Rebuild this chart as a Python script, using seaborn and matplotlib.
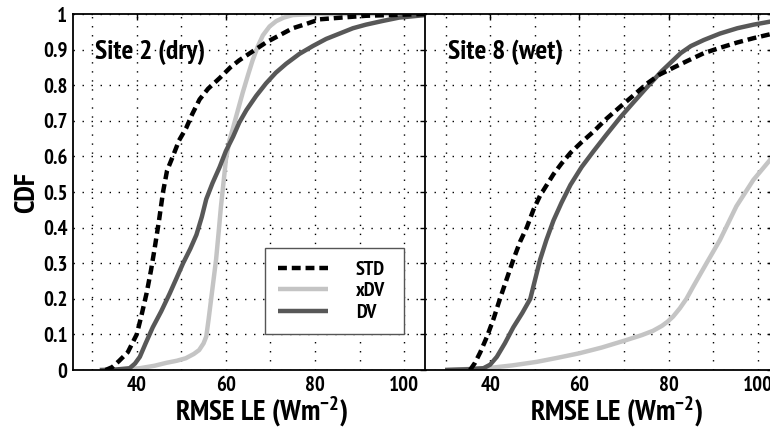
import matplotlib
matplotlib.use("Agg")
import matplotlib.pyplot as plt
from matplotlib.ticker import FixedLocator, NullFormatter
import seaborn as sns
import pandas as pd

# ---- RMSE of latent heat (W m-2) vs. cumulative fraction, per scheme and site ----
site2_std_x = [33.0, 34.5, 36.0, 38.0, 40.0, 41.0, 42.2, 43.2, 44.0, 45.0, 45.9, 46.8, 48.1, 49.5, 51.1,
               52.5, 54.1, 56.0, 58.6, 61.0, 63.0, 66.0, 69.0, 72.0, 75.0, 78.0, 81.0, 86.0, 91.4, 104.9]
site2_std_y = [0.0, 0.008, 0.025, 0.05, 0.10, 0.15, 0.215, 0.28, 0.34, 0.42, 0.50, 0.56, 0.60, 0.645, 0.68,
               0.72, 0.76, 0.79, 0.82, 0.85, 0.87, 0.895, 0.92, 0.94, 0.96, 0.972, 0.985, 0.99, 0.995, 1.0]

site2_xdv_x = [34.7, 38.0, 40.7, 44.0, 46.6, 49.0, 51.0, 52.8, 54.0, 55.0, 55.6, 56.1, 56.7, 57.3, 57.8,
               58.4, 58.9, 59.5, 60.0, 60.8, 61.6, 62.7, 63.8, 65.0, 66.0, 67.2, 68.3, 69.8, 71.3, 73.0,
               75.0, 80.0, 104.9]
site2_xdv_y = [0.0, 0.002, 0.005, 0.012, 0.02, 0.026, 0.033, 0.045, 0.056, 0.075, 0.094, 0.14, 0.20, 0.26, 0.31,
               0.39, 0.46, 0.53, 0.59, 0.645, 0.68, 0.73, 0.78, 0.83, 0.87, 0.91, 0.94, 0.965, 0.98, 0.99,
               0.997, 1.0, 1.0]

site2_dv_x = [31.7, 35.0, 38.4, 39.6, 40.7, 42.0, 43.6, 45.5, 47.4, 49.0, 50.4, 52.0, 53.4, 54.6, 55.6,
              57.0, 58.6, 60.0, 61.6, 63.0, 64.6, 66.8, 69.0, 71.2, 73.5, 76.5, 79.5, 82.5, 85.5, 88.5,
              91.4, 95.0, 98.9, 104.8]
site2_dv_y = [0.0, 0.001, 0.005, 0.018, 0.037, 0.075, 0.12, 0.165, 0.215, 0.26, 0.30, 0.34, 0.38, 0.43, 0.48,
              0.525, 0.57, 0.615, 0.655, 0.695, 0.73, 0.77, 0.805, 0.835, 0.86, 0.888, 0.91, 0.93, 0.945, 0.96,
              0.97, 0.98, 0.99, 0.997]

site8_std_x = [35.5, 36.6, 37.8, 39.3, 40.8, 42.2, 43.7, 45.2, 46.7, 48.2, 49.7, 51.2, 52.7, 54.2, 56.0,
               58.0, 60.5, 63.2, 66.0, 69.2, 72.0, 75.2, 78.0, 81.2, 84.5, 87.9, 91.5, 95.4, 99.0, 103.4]
site8_std_y = [0.0, 0.02, 0.05, 0.094, 0.145, 0.20, 0.255, 0.31, 0.36, 0.40, 0.45, 0.49, 0.52, 0.55, 0.58,
               0.61, 0.64, 0.67, 0.705, 0.74, 0.77, 0.805, 0.83, 0.85, 0.87, 0.89, 0.905, 0.92, 0.932, 0.945]

site8_xdv_x = [29.9, 39.3, 45.0, 50.5, 55.0, 60.0, 65.0, 70.5, 74.0, 76.5, 78.5, 79.8, 81.0, 82.5, 84.0,
               85.5, 88.5, 91.5, 95.2, 99.0, 103.4]
site8_xdv_y = [0.0, 0.005, 0.013, 0.023, 0.034, 0.047, 0.063, 0.084, 0.098, 0.11, 0.124, 0.136, 0.15, 0.173, 0.20,
               0.234, 0.30, 0.365, 0.46, 0.534, 0.60]

site8_dv_x = [29.9, 35.0, 38.5, 40.0, 41.5, 43.3, 45.2, 47.2, 49.0, 50.0, 51.2, 52.6, 54.2, 56.0, 58.0,
              60.5, 63.2, 66.0, 69.2, 72.0, 75.2, 78.5, 82.7, 85.0, 87.9, 91.5, 95.4, 99.0, 103.4]
site8_dv_y = [0.0, 0.002, 0.005, 0.015, 0.037, 0.075, 0.12, 0.16, 0.20, 0.25, 0.31, 0.365, 0.42, 0.47, 0.52,
              0.57, 0.615, 0.66, 0.71, 0.75, 0.795, 0.84, 0.89, 0.91, 0.927, 0.945, 0.96, 0.97, 0.98]

schemes = ["STD", "xDV", "DV"]
site_titles = ["Site 2 (dry)", "Site 8 (wet)"]
y_ticks = [0, 0.1, 0.2, 0.3, 0.4, 0.5, 0.6, 0.7, 0.8, 0.9, 1]
y_tick_labels = ["0", "0.1", "0.2", "0.3", "0.4", "0.5", "0.6", "0.7", "0.8", "0.9", "1"]
x_major = [40, 60, 80, 100]
x_minor = [30, 50, 70, 90]

sns.set_theme(style="white")
font_list = ["PT Sans Narrow", "DejaVu Sans"]
plt.rcParams["font.family"] = font_list
plt.rcParams["font.weight"] = "bold"
plt.rcParams["text.color"] = "black"
plt.rcParams["axes.labelcolor"] = "black"
plt.rcParams["xtick.color"] = "black"
plt.rcParams["ytick.color"] = "black"
plt.rcParams["mathtext.fontset"] = "custom"
plt.rcParams["mathtext.rm"] = "PT Sans Narrow:bold"
plt.rcParams["mathtext.it"] = "PT Sans Narrow:bold"
plt.rcParams["mathtext.bf"] = "PT Sans Narrow:bold"

styles = {
    "STD": dict(color="black", dashes=(2.0, 1.1)),
    "xDV": dict(color="#c4c4c4", dashes=None),
    "DV": dict(color="#585858", dashes=None),
}

fig = plt.figure(figsize=(7.7, 4.36), dpi=100)
bottom = 1 - 370 / 436
height = (370 - 14) / 436
ax1 = fig.add_axes([73 / 770, bottom, 353 / 770, height])
ax2 = fig.add_axes([425 / 770, bottom, 348 / 770, height])

panels = [
    (ax1, {"STD": (site2_std_x, site2_std_y), "xDV": (site2_xdv_x, site2_xdv_y), "DV": (site2_dv_x, site2_dv_y)},
     (25.7, 104.9), 0.533, 0.062),
    (ax2, {"STD": (site8_std_x, site8_std_y), "xDV": (site8_xdv_x, site8_xdv_y), "DV": (site8_dv_x, site8_dv_y)},
     (25.4, 103.4), 0.549, 0.067),
]

for i, (ax, series, xlim, xlab_pos, title_pos) in enumerate(panels):
    for name in ["xDV", "DV", "STD"]:
        xs, ys = series[name]
        df = pd.DataFrame({"rmse": xs, "cdf": ys})
        st = styles[name]
        sns.lineplot(data=df, x="rmse", y="cdf", ax=ax, color=st["color"],
                     lw=3.2, label=name, legend=False, estimator=None)
        ln = ax.lines[-1]
        if st["dashes"] is not None:
            ln.set_dashes(st["dashes"])
        ln.set_solid_capstyle("butt")
        ln.set_solid_joinstyle("round")
    ax.set_xlim(*xlim)
    ax.set_ylim(0, 1)
    ax.xaxis.set_major_locator(FixedLocator(x_major))
    ax.xaxis.set_minor_locator(FixedLocator(x_minor))
    ax.xaxis.set_minor_formatter(NullFormatter())
    ax.set_yticks(y_ticks)
    ax.grid(True, which="both", color="black", linestyle=(0, (1, 5.5)), lw=1.0)
    ax.tick_params(axis="both", which="major", direction="in", top=True, right=True,
                   length=4, width=1, colors="black", labelsize=15, pad=4)
    ax.tick_params(axis="both", which="minor", length=0)
    for sp in ax.spines.values():
        sp.set_color("black")
        sp.set_linewidth(1.3)
    ax.set_xlabel("RMSE LE (Wm$^{-2}$)", fontsize=21, fontweight="bold")
    ax.xaxis.set_label_coords(xlab_pos, -0.07, transform=ax.transAxes)
    ax.xaxis.label.set_va("top")
    ax.text(title_pos, 0.893, site_titles[i], transform=ax.transAxes,
            fontsize=20, fontweight="bold", va="center", ha="left")
    for lbl in ax.get_xticklabels() + ax.get_yticklabels():
        lbl.set_fontweight("bold")

ax1.set_yticklabels(y_tick_labels)
ax1.set_ylabel("CDF", fontsize=21, fontweight="bold", labelpad=2)
ax2.set_yticklabels([])
ax2.set_ylabel("")

# legend in the dry-site panel, ordered STD / xDV / DV
handles = {l.get_label(): l for l in ax1.lines}
leg = ax1.legend([handles[s] for s in schemes], schemes, loc="lower left",
                 bbox_to_anchor=(0.544, 0.10, 0.394, 0.254), mode="expand",
                 fontsize=14.5, frameon=True, fancybox=False, handlelength=2.5,
                 borderpad=0.62, labelspacing=0.17, handletextpad=1.4, borderaxespad=0)
leg.get_frame().set_edgecolor("#555555")
leg.get_frame().set_linewidth(1.0)
leg.get_frame().set_alpha(1)
for t in leg.get_texts():
    t.set_fontweight("bold")

fig.savefig("out.png", dpi=100)
